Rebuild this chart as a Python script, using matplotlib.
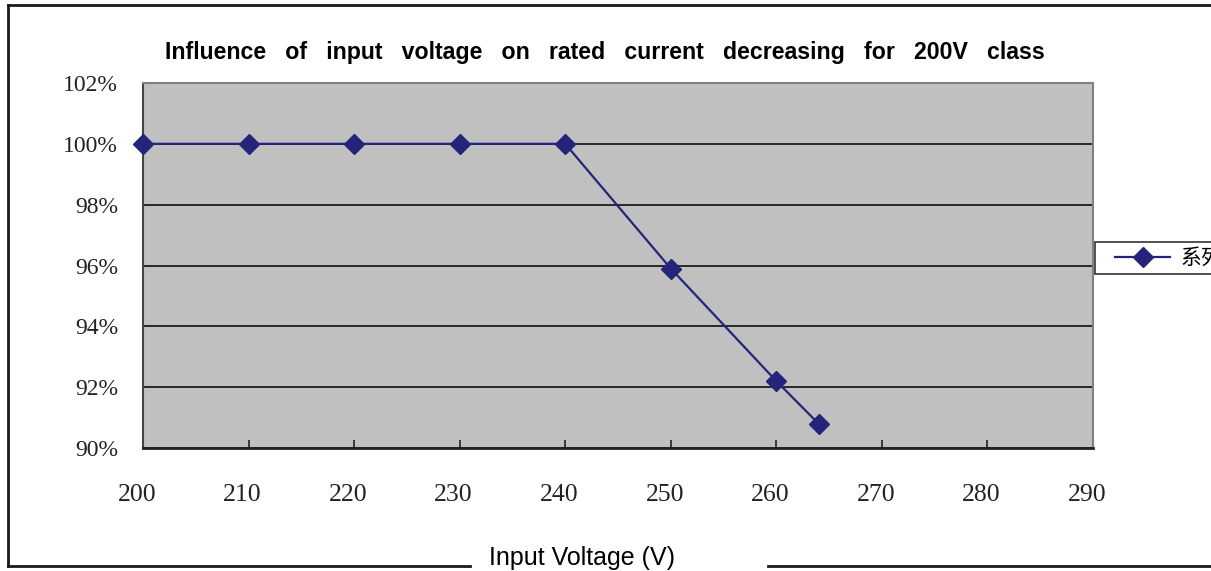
import matplotlib.pyplot as plt
import matplotlib.transforms as mtransforms
from matplotlib.lines import Line2D
from matplotlib.legend_handler import HandlerLine2D
from matplotlib.ticker import FuncFormatter

# 데이터
voltage = [200, 210, 220, 230, 240, 250, 260, 264]
rated_current = [100, 100, 100, 100, 100, 95.9, 92.2, 90.8]
x_ticks = [200, 210, 220, 230, 240, 250, 260, 270, 280, 290]
y_ticks = [90, 92, 94, 96, 98, 100, 102]
series_name = '系列1'
title = 'Influence   of   input   voltage   on   rated   current   decreasing   for   200V   class'

W, H = 1211, 571
fig = plt.figure(figsize=(W / 100, H / 100), dpi=100)
ax = fig.add_axes([143 / W, 1 - 448 / H, 950 / W, 365 / H])
ax.set_facecolor('#c0c0c0')

ax.plot(voltage, rated_current, color='#24247a', linewidth=1.6,
        marker='D', markersize=10.5, clip_on=False, zorder=3, label=series_name)

ax.set_xlim(200, 290)
ax.set_ylim(90, 102)
ax.set_xticks(x_ticks)
ax.set_yticks(y_ticks)
ax.yaxis.set_major_formatter(FuncFormatter(lambda v, p: f'{v:.0f}%'))

ax.grid(axis='y', color='black', linewidth=1.1)
ax.set_axisbelow(True)

ax.tick_params(axis='x', direction='in', length=6, width=1.2, color='#222222',
               pad=26, labelsize=18.5)
ax.tick_params(axis='y', length=0, pad=18, labelsize=17)
for lab in ax.get_xticklabels() + ax.get_yticklabels():
    lab.set_fontfamily('Liberation Serif')
    lab.set_color('#222222')
# x 라벨 살짝 왼쪽으로
off = mtransforms.ScaledTranslation(-6 / 100, 0, fig.dpi_scale_trans)
for lab in ax.get_xticklabels():
    lab.set_transform(lab.get_transform() + off)

ax.spines['left'].set_color('#444444')
ax.spines['left'].set_linewidth(1.5)
ax.spines['bottom'].set_color('#222222')
ax.spines['bottom'].set_linewidth(2)
ax.spines['top'].set_color('#808080')
ax.spines['top'].set_linewidth(1.5)
ax.spines['right'].set_color('#808080')
ax.spines['right'].set_linewidth(1.5)

fig.text(605 / W, 1 - 52 / H, title,
         ha='center', va='center', fontsize=16.7, fontweight='bold',
         family='Liberation Sans', color='black')

# 바깥 테두리
lc = '#1a1a1a'
fig.add_artist(Line2D([8 / W, 8 / W], [1 - 566 / H, 1 - 5 / H], color=lc, linewidth=2))
fig.add_artist(Line2D([8 / W, 1], [1 - 5 / H, 1 - 5 / H], color=lc, linewidth=2))
fig.add_artist(Line2D([8 / W, 470 / W], [1 - 566 / H, 1 - 566 / H], color=lc, linewidth=2))
fig.add_artist(Line2D([768 / W, 1], [1 - 566 / H, 1 - 566 / H], color=lc, linewidth=2))

fig.text(582 / W, 1 - 558 / H, 'Input Voltage (V)', ha='center', va='center',
         fontsize=18, family='Liberation Sans', color='black')

leg = fig.legend(loc='center left', bbox_to_anchor=(1095 / W, 1 - 258 / H),
                 prop={'family': ['Noto Sans CJK SC', 'DejaVu Sans'], 'size': 15},
                 frameon=True, fancybox=False, handlelength=3.37,
                 handler_map={Line2D: HandlerLine2D(xpad=0.72)},
                 borderaxespad=0, borderpad=0.25, handletextpad=0.48)
leg.get_frame().set_edgecolor('black')
leg.get_frame().set_linewidth(1.2)

fig.savefig('out.png', dpi=100)
